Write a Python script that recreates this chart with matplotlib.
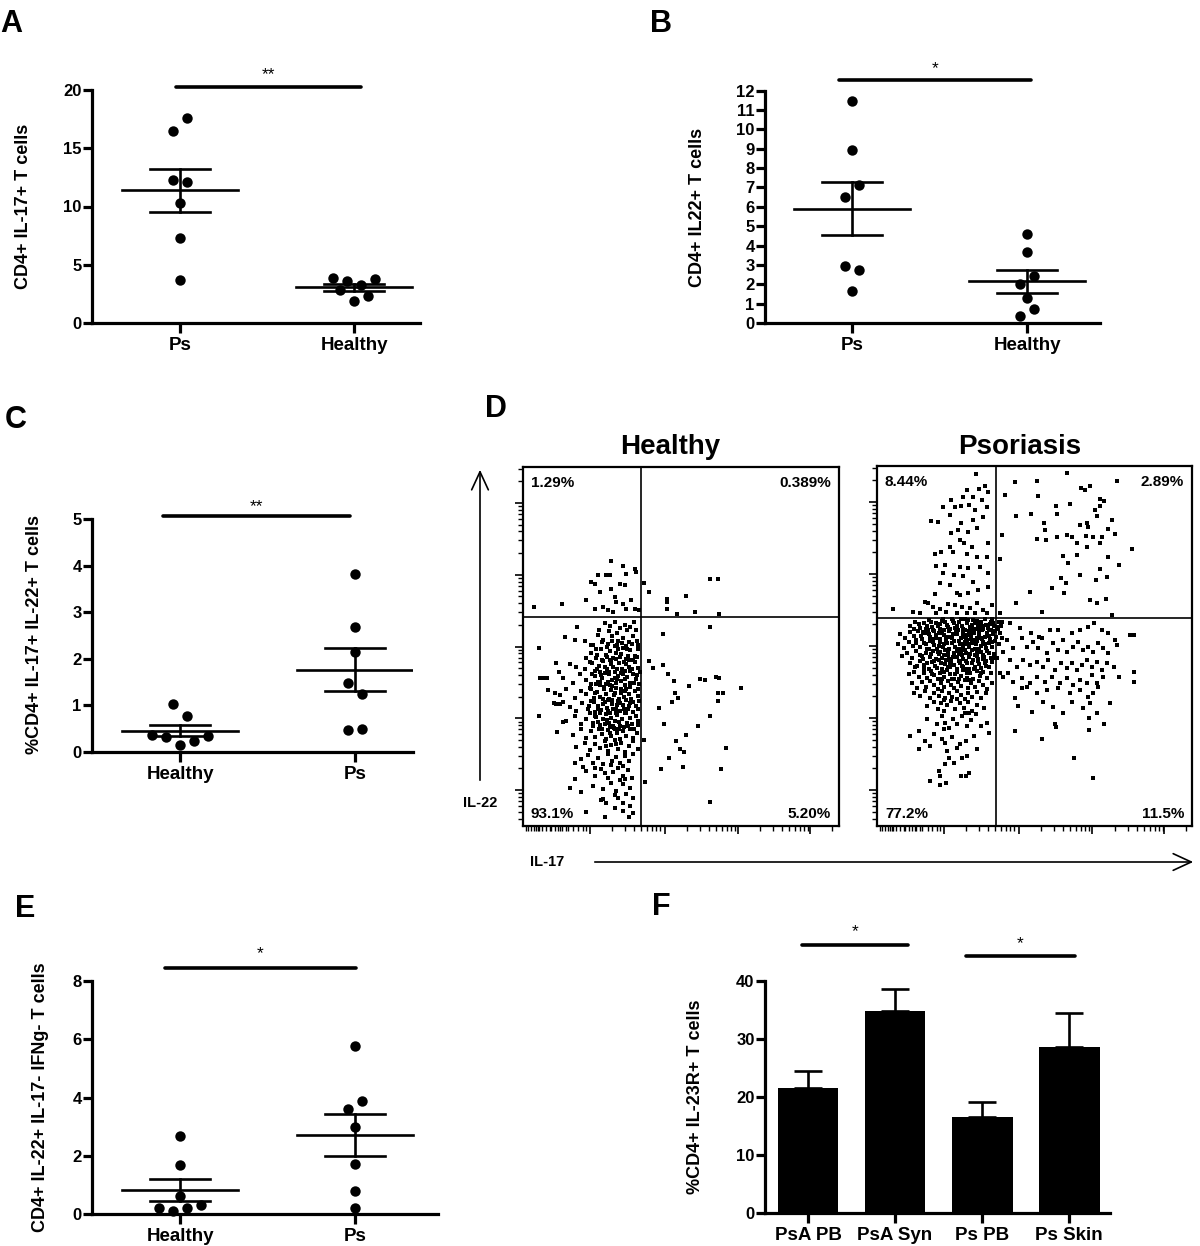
import matplotlib
matplotlib.use("Agg")
import matplotlib.pyplot as plt
import numpy as np
from matplotlib.patches import FancyArrowPatch

plt.rcParams['font.family'] = ['Liberation Sans', 'DejaVu Sans']

W, H = 1200, 1246

# ---------------- data ----------------
# Panel A: CD4+ IL-17+ T cells
a_cats = ['Ps', 'Healthy']
a_ps = [16.49, 17.57, 12.29, 12.09, 10.29, 7.31, 3.71]
a_healthy = [3.86, 3.57, 3.23, 3.77, 2.86, 1.91, 2.29]

# Panel B: CD4+ IL22+ T cells
b_cats = ['Ps', 'Healthy']
b_ps = [11.48, 8.92, 6.51, 7.13, 2.92, 2.75, 1.63]
b_healthy = [4.60, 3.69, 2.03, 2.41, 1.29, 0.34, 0.72]

# Panel C: %CD4+ IL-17+ IL-22+ T cells
c_cats = ['Healthy', 'Ps']
c_healthy = [1.03, 0.78, 0.37, 0.32, 0.14, 0.23, 0.34]
c_ps = [3.82, 2.68, 2.14, 1.49, 1.25, 0.48, 0.50]

# Panel E: CD4+ IL-22+ IL-17- IFNg- T cells
e_cats = ['Healthy', 'Ps']
e_healthy = [2.69, 1.69, 0.63, 0.21, 0.11, 0.21, 0.30]
e_ps = [5.77, 3.60, 3.89, 2.98, 1.73, 0.78, 0.21]

# Panel F: %CD4+ IL-23R+ T cells
f_cats = ['PsA PB', 'PsA Syn', 'Ps PB', 'Ps Skin']
f_means = [21.5, 34.8, 16.6, 28.7]
f_sem = [2.9, 3.9, 2.6, 5.7]

# Panel D: flow cytometry (IL-17 channel, IL-22 channel)
healthy_gate = (353, 628)
psoriasis_gate = (356, 625)
healthy_pct = ['1.29%', '0.389%', '93.1%', '5.20%']
psoriasis_pct = ['8.44%', '2.89%', '77.2%', '11.5%']

healthy_ul = [(32,658),(118,666),(190,678),(203,733),(215,726),(215,653),(225,753),(250,755),(260,755),
              (265,795),(265,713),(230,703),(275,688),(280,673),(290,726),(300,781),(308,758),(305,723),
              (300,668),(325,678),(335,773),(338,763),(240,658),(255,648),(270,643),(310,653),(335,653),
              (347,648)]
healthy_ur = [(363,730),(377,703),(432,683),(432,673),(432,653),(490,691),(562,741),(585,741),(462,638),
              (517,643),(588,638)]
healthy_lr = [(420,578),(560,598),(378,496),(390,473),(420,483),(435,456),(453,436),(455,400),(447,373),
              (465,385),(498,420),(532,440),(545,438),(578,448),(588,443),(585,400),(600,400),(585,376),
              (655,415),(407,353),(560,330),(423,306),(525,300),(490,273),(362,258),(458,256),(472,230),
              (482,223),(610,233),(438,203),(480,178),(415,170),(595,170),(367,133),(560,73)]
healthy_ll = [(47,533),(47,330),(50,443),(61,443),(72,443),(75,408),(100,488),(108,463),(125,568),
              (163,598),(155,558),(185,556),(103,281),(120,313),(93,368),(110,366),(140,113),(155,140),
              (175,103),(190,43),(245,28),(235,78),(240,80),(275,93),(300,68),(318,28),(330,83),(215,173),
              (155,188),(180,178),
              (245,610),(262,600),(275,612),(290,595),(305,605),(320,598),(332,612),(258,585),(282,580),
              (312,588),(340,590),(228,590),
              (240,560),(255,548),(268,572),(285,555),(300,565),(318,552),(330,570),(345,545),(210,545),
              (225,575),(275,540),(310,540),
              (205,520),(220,505),(235,530),(248,512),(262,525),(270,505),(285,532),(295,515),(308,500),
              (320,528),(335,510),(345,530),(190,505),(278,518),(300,535),
              (160,478),(185,470),(200,492),(215,465),(228,480),(240,495),(252,470),(265,485),(275,462),
              (288,490),(298,472),(310,485),(322,465),(335,492),(345,475),(230,462),(260,498),(318,498),
              (140,485),(350,462),
              (120,445),(150,430),(170,455),(190,438),(205,425),(215,450),(225,432),(238,445),(250,425),
              (258,455),(268,438),(278,428),(285,450),(295,435),(305,422),(312,448),(322,430),(330,455),
              (340,440),(348,425),(245,458),(275,445),(300,455),(232,422),(262,422),
              (95,400),(110,392),(130,410),(155,385),(175,405),(190,395),(200,415),(212,385),(222,402),
              (230,388),(242,412),(250,395),(258,380),(265,408),(272,392),(280,415),(288,382),(295,400),
              (302,388),(310,412),(318,395),(325,382),(335,405),(345,390),(240,380),(275,400),(305,404),
              (215,400),
              (100,365),(120,372),(140,358),(160,345),(178,370),(195,352),(205,375),(215,342),(225,360),
              (235,348),(245,372),(252,355),(262,340),(268,365),(278,350),(285,375),(292,345),(300,362),
              (308,378),(315,350),(322,368),(330,342),(340,360),(348,375),(255,378),(282,362),(232,340),
              (310,340),(270,352),
              (130,315),(155,330),(175,305),(190,322),(200,338),(210,310),(220,328),(232,302),(240,320),
              (250,335),(258,308),(265,325),(275,315),(282,332),(290,300),(298,320),(305,338),(312,310),
              (320,325),(328,305),(338,330),(346,315),(245,305),(270,300),(215,330),
              (150,272),(175,290),(190,265),(205,285),(215,268),(228,292),(238,275),(248,262),(255,288),
              (265,270),(272,295),(282,278),(292,262),(300,285),(310,270),(320,292),(330,265),(342,280),
              (260,280),(288,290),
              (160,238),(185,250),(200,228),(215,245),(230,235),(245,255),(255,225),(265,242),(275,258),
              (285,232),(295,248),(305,222),(318,240),(330,255),(345,230),(250,240),(280,245),
              (175,200),(195,212),(210,190),(225,205),(240,185),(255,215),(268,195),(280,208),(292,188),
              (305,210),(318,195),(330,215),(265,182),(300,180),
              (190,165),(215,150),(235,170),(255,145),(270,162),(285,175),(300,150),(315,168),(328,145),
              (245,158),(305,140),
              (210,120),(240,110),(265,130),(280,105),(300,125),(320,115),(290,138),
              (250,70),(275,55),(300,45),(320,60),(285,85),(330,40),(310,95)]
healthy_core = [(203,545),(218,532),(238,552),(252,538),(267,556),(282,545),(296,550),(312,530),(326,548),
                (341,556),(208,490),(222,512),(236,498),(251,506),(263,492),(279,500),(291,508),(304,492),
                (316,510),(329,498),(342,508),(207,455),(221,470),(234,452),(247,478),(259,462),(271,476),
                (283,470),(294,458),(306,466),(317,476),(328,470),(343,452),(204,410),(218,425),(231,432),
                (244,418),(256,432),(268,420),(281,440),(293,412),(307,440),(321,418),(334,430),(346,410),
                (198,360),(212,372),(226,352),(240,365),(254,346),(266,378),(279,340),(290,370),(303,352),
                (318,360),(331,372),(344,350),(210,300),(224,312),(236,290),(252,318),(262,296),(276,290),
                (288,312),(302,296),(316,300),(332,292),(344,302)]

psoriasis_ul = [(296,1056),(268,1008),(306,1010),(323,1020),(333,1003),(223,978),(256,988),(288,988),
                (313,978),(198,956),(233,958),(250,960),(276,963),(293,948),(328,958),(163,916),(183,913),
                (218,933),(250,908),(288,918),(316,926),(223,878),(243,888),(273,883),(298,893),(248,858),
                (218,838),(260,848),(283,838),(333,848),(173,816),(193,823),(228,823),(268,816),(298,808),
                (328,808),(178,780),(203,783),(248,778),(273,773),(308,778),(198,758),(230,753),(256,750),
                (288,733),(333,758),(188,728),(218,723),(238,700),(248,693),(273,698),(303,708),(333,718),
                (173,695),(143,673),(153,668),(48,650),(108,643),(128,638),(168,658),(188,650),(213,666),
                (233,663),(253,658),(278,653),(298,668),(318,648),(343,663),(208,643),(238,638),(268,638),
                (293,640),(328,638),(178,638)]
psoriasis_ur = [(413,1033),(480,1035),(568,1060),(718,1035),(383,993),(483,990),(610,1013),(638,1020),
                (623,1008),(416,930),(460,936),(536,960),(538,936),(578,966),(668,980),(680,976),(658,930),
                (500,910),(503,888),(608,903),(628,910),(633,898),(653,948),(668,960),(703,918),(693,890),
                (713,876),(373,873),(478,860),(506,858),(538,868),(568,873),(583,868),(598,848),(626,870),
                (648,868),(673,868),(628,838),(556,810),(600,813),(668,848),(763,830),(368,800),(573,790),
                (693,808),(723,783),(668,770),(608,753),(688,748),(656,738),(550,743),(566,730),(523,713),
                (560,698),(458,703),(416,670),(638,678),(660,670),(686,680),(493,643),(368,638),(703,633)]
psoriasis_lr = [(373,613),(398,608),(428,593),(460,578),(486,566),(518,588),(543,588),(583,578),(608,588),
                (633,598),(650,610),(673,588),(693,578),(713,558),(758,573),(768,573),(368,578),(388,558),
                (408,533),(433,563),(448,538),(466,553),(483,533),(493,563),(508,518),(528,548),(543,528),
                (556,558),(568,523),(588,538),(603,553),(618,528),(633,538),(648,523),(663,548),(678,533),
                (693,518),(718,543),(378,523),(398,498),(418,478),(438,498),(458,483),(478,493),(498,478),
                (513,498),(533,468),(550,488),(568,473),(583,488),(598,468),(613,483),(628,498),(643,478),
                (658,493),(673,468),(688,488),(708,478),(723,448),(768,463),(768,433),(378,448),(393,458),
                (408,433),(433,443),(458,428),(478,448),(503,433),(523,448),(548,428),(568,443),(588,423),
                (608,438),(628,428),(643,453),(658,428),(678,448),(433,413),(448,416),(478,398),(508,408),
                (543,413),(578,398),(608,408),(633,388),(648,398),(663,418),(413,383),(423,360),(463,343),
                (498,373),(528,358),(556,340),(583,373),(618,353),(638,368),(658,338),(698,368),(636,323),
                (680,306),(533,306),(536,298),(413,285),(636,288),(495,260),(591,203),(648,143),(358,503),
                (368,458),(370,600),(362,590),(375,565),(365,545)]
psoriasis_ll = [(100,600),(115,612),(130,595),(142,608),(155,618),(165,598),(178,610),(188,592),(198,620),
                (210,603),(220,590),(228,615),(240,600),(250,622),(258,592),(268,610),(278,598),(288,618),
                (296,592),(305,608),(315,600),(322,620),(332,595),(342,612),(350,600),(205,612),(235,595),
                (262,620),(300,615),(318,590),(345,622),(190,606),(283,604),(232,608),(147,592),(338,605),
                (70,575),(85,565),(98,582),(110,570),(122,585),(135,562),(145,578),(158,568),(168,588),
                (178,572),(188,560),(196,580),(206,568),(215,585),(224,563),(233,577),(242,588),(250,565),
                (258,578),(266,562),(274,585),(282,570),(290,580),(298,563),(306,575),(314,588),(322,568),
                (330,580),(338,562),(346,575),(352,585),(152,588),(228,575),(270,572),(310,565),(340,588),
                (186,578),
                (62,545),(80,535),(95,552),(108,540),(118,558),(130,538),(140,550),(150,532),(160,555),
                (170,542),(180,530),(188,552),(198,538),(208,558),(216,532),(225,548),(234,538),(244,556),
                (252,530),(260,545),(268,558),(276,536),(284,550),(292,532),(300,556),(310,540),(318,552),
                (326,535),(335,548),(345,538),(352,555),(165,560),(238,530),(280,560),(305,530),(200,545),
                (258,535),
                (75,510),(90,520),(105,505),(118,525),(128,512),(138,502),(148,520),(158,508),(168,526),
                (176,500),(185,515),(195,505),(205,528),(214,512),(222,500),(232,520),(240,508),(250,525),
                (258,502),(266,518),(274,506),(283,528),(292,512),(302,500),(311,522),(320,508),(330,526),
                (340,505),(350,515),(190,522),(245,515),(300,520),(215,502),(155,530),
                (100,488),(115,478),(130,495),(142,482),(155,472),(165,492),(175,480),(185,498),(194,470),
                (203,486),(212,476),(222,495),(230,482),(240,470),(248,490),(257,478),(266,496),(275,472),
                (284,488),(293,478),(302,496),(312,474),(322,488),(334,478),(345,492),(208,498),(262,470),
                (318,500),
                (95,455),(110,462),(125,448),(140,458),(150,445),(162,465),(172,452),(182,440),(190,460),
                (200,448),(210,468),(220,455),(230,442),(240,462),(250,450),(258,468),(268,445),(278,458),
                (288,442),(298,465),(308,450),(318,462),(330,445),(342,458),(245,440),(195,442),
                (105,428),(120,415),(135,432),(148,418),(160,436),(172,422),(183,412),(192,430),(202,418),
                (212,436),(222,424),(232,414),(242,432),(252,420),(262,438),(272,415),(282,428),(292,418),
                (304,435),(316,422),(330,412),(345,430),(225,440),(275,438),
                (110,398),(130,390),(145,405),(160,385),(172,400),(185,390),(195,406),(205,384),(216,398),
                (226,388),(238,404),(250,392),(262,382),(272,400),(285,388),(298,402),(310,385),(325,398),
                (240,382),
                (150,360),(170,372),(182,352),(192,368),(200,345),(210,362),(222,375),(235,350),(248,368),
                (260,355),(272,372),(285,345),(300,362),(320,355),(200,378),(262,340),
                (150,320),(180,305),(195,330),(205,310),(215,295),(228,322),(240,305),(255,330),(268,300),
                (280,318),(295,335),(310,300),(330,310),(200,290),(275,340),
                (100,270),(125,285),(145,255),(160,240),(170,275),(195,262),(205,250),(210,225),(225,268),
                (240,235),(248,245),(265,255),(270,210),(290,270),(300,230),(335,280),(125,230),
                (185,165),(205,185),(255,205),(215,205),(250,150),(265,150),(190,150),(275,160),(160,135),
                (188,122),(208,128),(230,190)]
psoriasis_core = [(112,590),(125,605),(138,583),(150,600),(162,612),(172,585),(183,600),(194,615),(202,588),
                  (214,598),(224,622),(236,585),(246,612),(254,600),(264,588),(272,618),(284,590),(292,608),
                  (302,598),(312,612),(326,602),(336,588),(348,610),(358,598),(366,612),
                  (118,550),(132,570),(146,545),(157,575),(168,552),(177,565),(187,540),(200,572),(211,548),
                  (220,568),(230,555),(240,575),(248,545),(256,568),(264,552),(272,545),(280,578),(288,558),
                  (296,545),(304,585),(314,560),(324,545),(334,570),(344,552),(356,568),
                  (120,480),(135,510),(150,490),(162,515),(172,495),(182,522),(192,488),(200,512),(212,522),
                  (220,488),(228,506),(238,525),(246,495),(254,512),(262,528),(270,490),(279,515),(288,498),
                  (298,510),(306,485),(316,512),(326,495),(336,520),(346,505),
                  (140,470),(165,455),(180,475),(200,462),(218,478),(235,455),(255,480),(270,460),(290,470),
                  (310,460),(325,480)]

# ---------------- figure ----------------
fig = plt.figure(figsize=(W / 100, H / 100), dpi=100)


def rect(x0, y0, x1, y1):
    return [x0 / W, 1 - y1 / H, (x1 - x0) / W, (y1 - y0) / H]


def fx(x):
    return x / W


def fy(y):
    return 1 - y / H


def style_axes(ax, yticks, cats, xtick_size=13.5):
    for s in ['top', 'right']:
        ax.spines[s].set_visible(False)
    for s in ['left', 'bottom']:
        ax.spines[s].set_linewidth(2.3)
    ax.set_yticks(yticks)
    ax.set_yticklabels([str(t) for t in yticks], fontsize=12, fontweight='bold')
    ax.set_xticks(range(len(cats)))
    ax.set_xticklabels(cats, fontsize=xtick_size, fontweight='bold')
    ax.tick_params(axis='y', direction='out', length=6.5, width=2.3, pad=1)
    ax.tick_params(axis='x', direction='out', length=7, width=2.3, pad=3)
    ax.patch.set_visible(False)


def dot_panel(box, groups, cats, ylim, yticks, xlim):
    ax = fig.add_axes(rect(*box))
    ax.set_xlim(xlim)
    ax.set_ylim(ylim)
    pos = ax.get_position()
    ppu_y = pos.height * H / (ylim[1] - ylim[0])
    ppu_x = pos.width * W / (xlim[1] - xlim[0])
    for i, vals in enumerate(groups):
        vals = np.asarray(vals, dtype=float)
        order = np.argsort(vals, kind='stable')
        rows = []
        for k in order:
            if rows and (vals[k] - vals[rows[-1][0]]) * ppu_y < 13.5:
                rows[-1].append(k)
            else:
                rows.append([k])
        xs = np.zeros(len(vals))
        for r in rows:
            r = sorted(r)
            n = len(r)
            for j, k in enumerate(r):
                xs[k] = i + (j - (n - 1) / 2) * 14.0 / ppu_x
        ax.plot(xs, vals, 'o', color='k', ms=7.5, mew=0, clip_on=False, zorder=3)
        m = vals.mean()
        sem = vals.std(ddof=1) / np.sqrt(len(vals))
        ax.plot([i - 0.333, i + 0.333], [m, m], color='k', lw=1.9, zorder=4)
        ax.plot([i - 0.17, i + 0.17], [m + sem, m + sem], color='k', lw=1.9, zorder=4)
        ax.plot([i - 0.17, i + 0.17], [m - sem, m - sem], color='k', lw=1.9, zorder=4)
        ax.plot([i, i], [m - sem, m + sem], color='k', lw=1.9, zorder=4)
    style_axes(ax, yticks, cats)
    return ax


def sig(ax, x0, x1, y, ystar, label, size=12.5):
    ax.plot([x0, x1], [y, y], color='k', lw=2.6, clip_on=False, solid_capstyle='round')
    ax.text((x0 + x1) / 2, ystar, label, ha='center', va='center', fontsize=size, clip_on=False)


def ylab(x, y, text):
    fig.text(fx(x), fy(y), text, rotation=90, ha='center', va='center', fontsize=13, fontweight='bold')


def letter(x, y, t):
    fig.text(fx(x), fy(y), t, ha='left', va='baseline', fontsize=22, fontweight='bold')


# Panel A
axA = dot_panel((92, 90, 420, 323), [a_ps, a_healthy], a_cats, (0, 20), [0, 5, 10, 15, 20], (-0.506, 1.379))
sig(axA, -0.025, 1.04, 20.23, 21.3, '**')
ylab(24, 206, 'CD4+ IL-17+ T cells')
letter(0, 32, 'A')

# Panel B
axB = dot_panel((765, 90.7, 1100, 323), [b_ps, b_healthy], b_cats, (0, 12), list(range(13)), (-0.497, 1.417))
sig(axB, -0.077, 1.023, 12.54, 13.15, '*')
ylab(697, 207, 'CD4+ IL22+ T cells')
letter(650, 32, 'B')

# Panel C
axC = dot_panel((92, 519, 413, 752), [c_healthy, c_ps], c_cats, (0, 5), [0, 1, 2, 3, 4, 5], (-0.503, 1.33))
sig(axC, -0.095, 0.97, 5.07, 5.27, '**')
ylab(35, 635, '%CD4+ IL-17+ IL-22+ T cells')
letter(5, 428, 'C')

# Panel E
axE = dot_panel((92, 981, 438, 1214), [e_healthy, e_ps], e_cats, (0, 8), [0, 2, 4, 6, 8], (-0.503, 1.474))
sig(axE, -0.086, 1.006, 8.46, 8.95, '*')
ylab(41, 1097, 'CD4+ IL-22+ IL-17- IFNg- T cells')
letter(15, 917, 'E')

# Panel F
axF = fig.add_axes(rect(765, 981, 1110, 1213))
xf = np.arange(len(f_cats))
axF.bar(xf, f_means, width=0.70, color='k', zorder=2)
axF.errorbar(xf, f_means, yerr=[np.zeros(len(f_sem)), f_sem], fmt='none', ecolor='k',
             elinewidth=1.9, capsize=10, capthick=1.9, zorder=1)
axF.set_xlim(-0.494, 3.47)
axF.set_ylim(0, 40)
style_axes(axF, [0, 10, 20, 30, 40], f_cats)
sig(axF, -0.065, 1.154, 46.2, 48.5, '*')
sig(axF, 1.81, 3.07, 44.3, 46.4, '*')
ylab(695, 1097, '%CD4+ IL-23R+ T cells')
letter(652, 915, 'F')

# Panel D
DASH = [(-0.7, -1), (0.7, -1), (0.7, 1), (-0.7, 1), (-0.7, -1)]


def log_ticks(majors, spacing, lo, hi):
    minors = []
    starts = [majors[0] - spacing] + list(majors)
    for s in starts:
        for mlt in range(2, 10):
            v = s + np.log10(mlt) * spacing
            if lo <= v <= hi and all(abs(v - M) > 2 for M in majors):
                minors.append(v)
    return minors


def flow_panel(box, xmax, ymax, quads, gate, pct, title, title_x):
    ax = fig.add_axes(rect(*box))
    ax.set_xlim(0, xmax)
    ax.set_ylim(0, ymax)
    for q in quads:
        arr = np.array(q, dtype=float)
        ax.scatter(arr[:, 0], arr[:, 1], s=10, marker=DASH, color='k', linewidths=0, zorder=2)
    ax.axvline(gate[0], color='k', lw=1.2, zorder=3)
    ax.axhline(gate[1], color='k', lw=1.2, zorder=3)
    for s in ax.spines.values():
        s.set_linewidth(1.6)
    ymaj = [0.1 * ymax, 0.3 * ymax, 0.5 * ymax, 0.7 * ymax, 0.9 * ymax]
    ax.set_yticks(ymaj)
    ax.set_yticks(log_ticks(ymaj, 0.2 * ymax, 0, ymax), minor=True)
    xmaj = [200, 425, 645, 860]
    xmin = log_ticks(xmaj, 220, 0, xmax) + [8, 16, 24, 32, 40, 48, 58, 68, 80, 95, 106, 118, 130]
    ax.set_xticks(xmaj)
    ax.set_xticks(xmin, minor=True)
    ax.tick_params(which='major', direction='out', length=6, width=1.2, labelleft=False, labelbottom=False)
    ax.tick_params(which='minor', direction='out', length=3.5, width=1.0)
    fp = dict(fontsize=11, fontweight='bold', transform=ax.transAxes)
    ax.text(0.025, 0.975, pct[0], ha='left', va='top', **fp)
    ax.text(0.975, 0.975, pct[1], ha='right', va='top', **fp)
    ax.text(0.025, 0.015, pct[2], ha='left', va='bottom', **fp)
    ax.text(0.975, 0.015, pct[3], ha='right', va='bottom', **fp)
    fig.text(fx(title_x), fy(447), title, ha='center', va='center', fontsize=20, fontweight='bold')
    return ax


flow_panel((523, 467, 839, 826), 948, 1078, [healthy_ul, healthy_ur, healthy_ll, healthy_lr, healthy_core],
           healthy_gate, healthy_pct, 'Healthy', 670)
flow_panel((877, 466, 1192, 826), 943, 1080,
           [psoriasis_ul, psoriasis_ur, psoriasis_ll, psoriasis_lr, psoriasis_core],
           psoriasis_gate, psoriasis_pct, 'Psoriasis', 1020)
letter(485, 417, 'D')

arr_kw = dict(arrowstyle='->,head_length=1.3,head_width=0.6', mutation_scale=10, lw=1.2,
              color='k', transform=fig.transFigure)
fig.add_artist(FancyArrowPatch((fx(480), fy(783)), (fx(480), fy(467)), **arr_kw))
fig.add_artist(FancyArrowPatch((fx(592), fy(862)), (fx(1196), fy(862)), **arr_kw))
fig.text(fx(480), fy(803), 'IL-22', ha='center', va='center', fontsize=10.5, fontweight='bold')
fig.text(fx(547), fy(862), 'IL-17', ha='center', va='center', fontsize=10.5, fontweight='bold')

fig.savefig('out.png', dpi=100, facecolor='white')
